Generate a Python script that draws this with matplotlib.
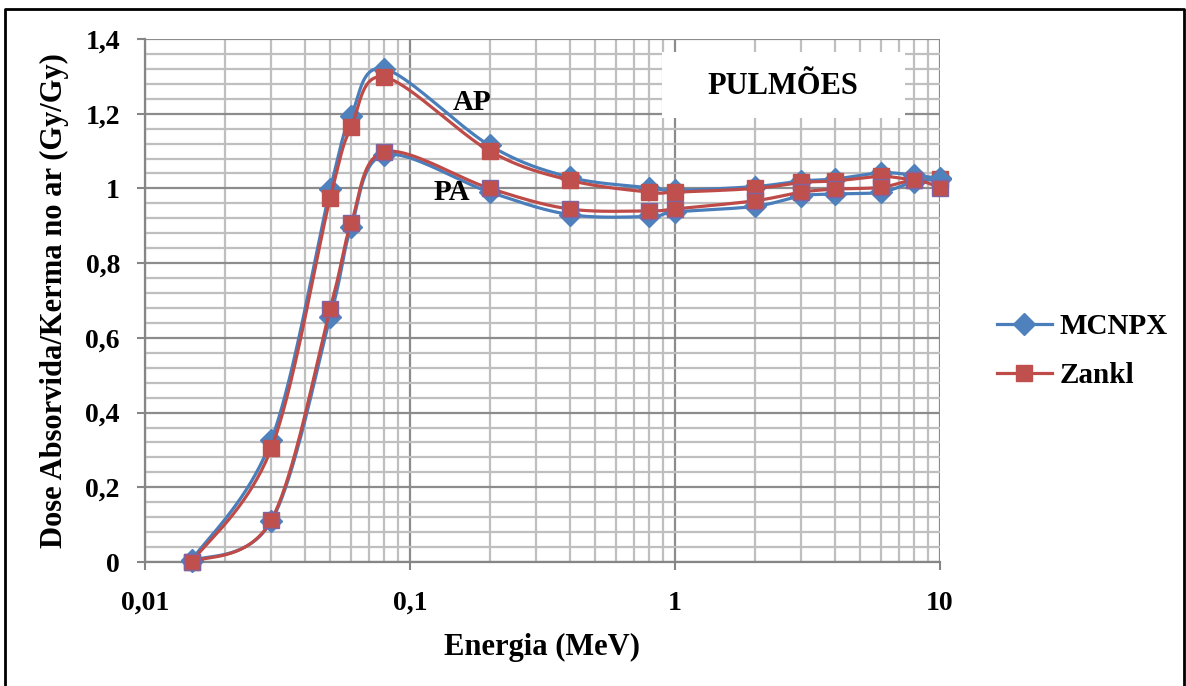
import numpy as np
import matplotlib
matplotlib.use("Agg")
import matplotlib.pyplot as plt
from matplotlib.lines import Line2D
from matplotlib.patches import Rectangle
from matplotlib.ticker import FixedLocator, FixedFormatter, NullFormatter

plt.rcParams['font.family'] = ['Liberation Serif', 'DejaVu Serif']
plt.rcParams['font.weight'] = 'bold'

# ---------------- data ----------------
energia = [0.015, 0.03, 0.05, 0.06, 0.08, 0.2, 0.4, 0.8, 1, 2, 3, 4, 6, 8, 10]
mcnpx_ap = [0.005, 0.327, 0.998, 1.195, 1.320, 1.115, 1.030, 1.002, 0.995, 1.005, 1.020, 1.025, 1.042, 1.035, 1.027]
zankl_ap = [0.000, 0.305, 0.975, 1.165, 1.298, 1.100, 1.022, 0.990, 0.990, 1.000, 1.016, 1.020, 1.032, 1.023, 1.025]
mcnpx_pa = [0.003, 0.110, 0.655, 0.897, 1.090, 0.990, 0.930, 0.925, 0.937, 0.952, 0.980, 0.985, 0.990, 1.018, 1.025]
zankl_pa = [0.000, 0.113, 0.678, 0.907, 1.098, 1.000, 0.945, 0.940, 0.945, 0.967, 0.990, 0.998, 1.003, 1.022, 1.002]

x_ticks = [0.01, 0.1, 1, 10]
x_tick_labels = ['0,01', '0,1', '1', '10']
y_ticks = [0, 0.2, 0.4, 0.6, 0.8, 1.0, 1.2, 1.4]
y_tick_labels = ['0', '0,2', '0,4', '0,6', '0,8', '1', '1,2', '1,4']
series_names = ['MCNPX', 'Zankl']
panel_title = 'PULMÕES'
x_label = 'Energia (MeV)'
y_label = 'Dose Absorvida/Kerma no ar (Gy/Gy)'

BLUE = '#4A7EBB'
BLUE_M = '#4F81BD'
RED = '#BE4B48'
RED_M = '#C0504D'
PURPLE = '#8064A2'


def excel_smooth(xs, ys, n=40):
    """Excel-like smoothed line (Catmull-Rom Bezier) in log-x space."""
    lx = np.log10(np.asarray(xs, float))
    y = np.asarray(ys, float)
    P = np.column_stack([lx, y])
    m = len(P)
    out = []
    for i in range(m - 1):
        p0 = P[i - 1] if i > 0 else P[i]
        p1 = P[i]
        p2 = P[i + 1]
        p3 = P[i + 2] if i + 2 < m else P[i + 1]
        c1 = p1 + (p2 - p0) / 6.0
        c2 = p2 - (p3 - p1) / 6.0
        t = np.linspace(0, 1, n)[:, None]
        seg = ((1 - t) ** 3) * p1 + 3 * ((1 - t) ** 2) * t * c1 + 3 * (1 - t) * t ** 2 * c2 + t ** 3 * p2
        if i > 0:
            seg = seg[1:]
        out.append(seg)
    pts = np.vstack(out)
    return 10 ** pts[:, 0], pts[:, 1]


fig = plt.figure(figsize=(11.86, 6.86), dpi=100)
ax = fig.add_axes([145 / 1186, 1 - 562 / 686, (940 - 145) / 1186, (562 - 39) / 686])

ax.set_xscale('log')
ax.set_xlim(0.01, 10)
ax.set_ylim(0, 1.4)

# grid
ax.xaxis.set_major_locator(FixedLocator(x_ticks))
ax.xaxis.set_major_formatter(FixedFormatter(x_tick_labels))
minor_x = [m * d for d in [0.01, 0.1, 1] for m in range(2, 10)]
ax.xaxis.set_minor_locator(FixedLocator(minor_x))
ax.xaxis.set_minor_formatter(NullFormatter())
ax.yaxis.set_major_locator(FixedLocator(y_ticks))
ax.yaxis.set_major_formatter(FixedFormatter(y_tick_labels))
ax.yaxis.set_minor_locator(FixedLocator(np.arange(0, 1.41, 0.04)))

ax.grid(True, which='major', color='#8C8C8C', linewidth=1.6)
ax.grid(True, which='minor', color='#BFBFBF', linewidth=1.6)
ax.set_axisbelow(True)

for s in ['top', 'right']:
    ax.spines[s].set_visible(False)
for s in ['left', 'bottom']:
    ax.spines[s].set_color('#868686')
    ax.spines[s].set_linewidth(1.6)

ax.tick_params(axis='both', which='major', direction='out', length=6, width=1.5,
               color='#868686', labelsize=20)
ax.tick_params(axis='x', which='major', pad=15)
ax.tick_params(axis='y', which='major', pad=12)
ax.tick_params(axis='both', which='minor', length=0)
for lab in ax.get_xticklabels() + ax.get_yticklabels():
    lab.set_fontweight('bold')

# title box
ax.add_patch(Rectangle((662 / 1186, 1 - 118 / 686), (905 - 662) / 1186, (118 - 52) / 686,
                       transform=fig.transFigure, facecolor='white', edgecolor='none', zorder=1.5))
fig.text(783 / 1186, 1 - 86 / 686, panel_title, ha='center', va='center',
         fontsize=22, fontweight='bold', zorder=5)

# series
lw = 2.3
series = [
    (mcnpx_ap, BLUE, BLUE_M, 'D', BLUE_M),
    (zankl_ap, RED, RED_M, 's', RED_M),
    (mcnpx_pa, BLUE, BLUE_M, 'D', BLUE_M),
    (zankl_pa, RED, RED_M, 's', PURPLE),
]
z = 3
for ys, lc, mc, mk, mec in series:
    sx, sy = excel_smooth(energia, ys)
    ax.plot(sx, sy, color=lc, linewidth=lw, zorder=z, solid_capstyle='round')
    ms_ = 11.5 if mk == 'D' else 12
    ax.plot(energia, ys, linestyle='none', marker=mk, markersize=ms_, markerfacecolor=mc,
            markeredgecolor=mec, markeredgewidth=1.0, zorder=z + 0.5, clip_on=False)
    z += 1

# curve labels
fig.text(472 / 1186, 1 - 103 / 686, 'AP', fontsize=21, fontweight='bold', ha='center', va='center', zorder=10)
fig.text(452 / 1186, 1 - 192 / 686, 'PA', fontsize=21, fontweight='bold', ha='center', va='center', zorder=10)

ax.set_xlabel(x_label, fontsize=22, fontweight='bold', labelpad=12)
ax.set_ylabel(y_label, fontsize=22, fontweight='bold', labelpad=12)

# legend
handles = [
    Line2D([], [], color=BLUE, linewidth=lw, marker='D', markersize=11, markerfacecolor=BLUE_M,
           markeredgecolor=BLUE_M),
    Line2D([], [], color=RED, linewidth=lw, marker='s', markersize=12, markerfacecolor=RED_M,
           markeredgecolor=RED_M),
]
fig.legend(handles, series_names, loc='center left', bbox_to_anchor=(985 / 1186, 1 - 351 / 686),
           frameon=False, prop={'size': 21, 'weight': 'bold'}, handlelength=1.9,
           handletextpad=0.25, labelspacing=0.75, borderaxespad=0)

# outer border
fig.add_artist(Line2D([5 / 1186, 5 / 1186, 1184 / 1186, 1184 / 1186],
                      [0, 1 - 9 / 686, 1 - 9 / 686, 0], transform=fig.transFigure,
                      color='black', linewidth=2))

fig.savefig('out.png', dpi=100)
